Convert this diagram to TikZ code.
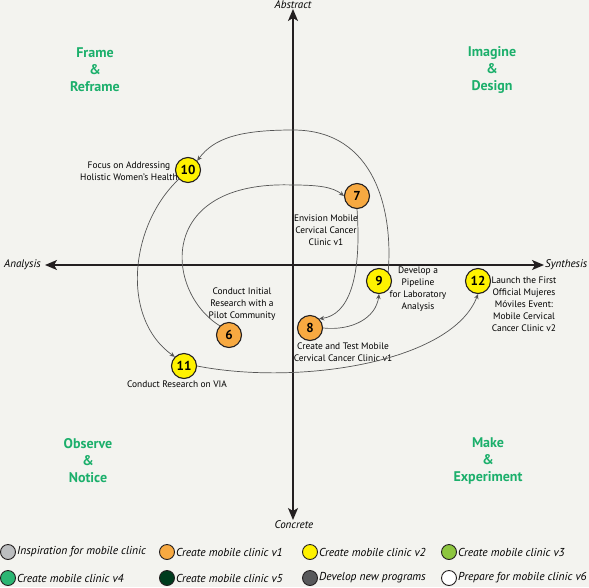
\documentclass[tikz,border=0pt]{standalone}
\usepackage{fontspec}
\setmainfont{PT Sans}
\usetikzlibrary{arrows.meta}

\definecolor{bgpaper}{RGB}{243,243,239}
\definecolor{quadgreen}{RGB}{27,175,107}
\definecolor{inkline}{RGB}{35,31,32}
\definecolor{flowgray}{RGB}{85,85,85}
\definecolor{cgray}{RGB}{188,190,192}
\definecolor{corange}{RGB}{247,169,65}
\definecolor{cyellow}{RGB}{255,242,0}
\definecolor{clime}{RGB}{141,198,63}
\definecolor{cgreen}{RGB}{43,182,115}
\definecolor{cdark}{RGB}{0,60,30}
\definecolor{cslate}{RGB}{88,89,91}

\tikzset{
  stage/.style={circle, draw=inkline, line width=1.1pt, minimum size=25pt, inner sep=0pt,
    font=\bfseries\fontsize{13}{13}\selectfont},
  note/.style={align=center, inner sep=0pt, font=\fontsize{9.4}{12}\selectfont},
  quad/.style={text=quadgreen, align=center, font=\bfseries\fontsize{14}{17}\selectfont},
  axislabel/.style={inner sep=0pt, font=\itshape\fontsize{11}{11}\selectfont},
  axis/.style={line width=1.4pt, draw=inkline, -{Stealth[length=12pt,width=10pt,inset=3pt]}},
  flow/.style={draw=flowgray, line width=0.7pt, -{Stealth[length=5pt,width=4.5pt]}},
  keydot/.style={circle, draw=inkline, line width=0.9pt, minimum size=15pt, inner sep=0pt},
  keytext/.style={anchor=west, inner sep=0pt, font=\itshape\fontsize{11.5}{12}\selectfont}
}

\begin{document}
\begin{tikzpicture}[x=1pt, y=-1pt]
    \fill[bgpaper] (0,0) rectangle (589,587);
    \useasboundingbox (0,0) rectangle (589,587);

    % axes
    \coordinate (o) at (293,265);
    \coordinate (top) at (293,9);
    \coordinate (bottom) at (293,520);
    \coordinate (left) at (45,265);
    \coordinate (right) at (544,265);
    \draw[axis] (o) -- (top);
    \draw[axis] (o) -- (bottom);
    \draw[axis] (o) -- (left);
    \draw[axis] (o) -- (right);
    \node[axislabel] (abstract) at (293,5) {Abstract};
    \node[axislabel] (concrete) at (294,525) {Concrete};
    \node[axislabel, anchor=west] (analysis) at (4,265) {Analysis};
    \node[axislabel, anchor=west] (synthesis) at (545,265) {Synthesis};

    % quadrants
    \node[quad] (frame) at (95,70) {Frame\\\&\\Reframe};
    \node[quad] (imagine) at (492,70) {Imagine\\\&\\Design};
    \node[quad] (observe) at (88,461) {Observe\\\&\\Notice};
    \node[quad] (make) at (488,461) {Make\\\&\\Experiment};

    % stages
    \node[stage, fill=cyellow] (s10) at (188,170) {10};
    \node[stage, fill=corange] (s7) at (357,196) {7};
    \node[stage, fill=cyellow] (s9) at (379,281) {9};
    \node[stage, fill=cyellow] (s12) at (478,281) {12};
    \node[stage, fill=corange] (s8) at (310,328) {8};
    \node[stage, fill=corange] (s6) at (229,335) {6};
    \node[stage, fill=cyellow] (s11) at (184,366) {11};

    \node[note] (n10) at (129,171) {Focus on Addressing\\Holistic Women's Health};
    \node[note] (n7) at (326,230) {Envision Mobile\\Cervical Cancer\\Clinic v1};
    \node[note] (n9) at (418,289) {Develop a\\Pipeline\\for Laboratory\\Analysis};
    \node[note] (n12) at (524,304) {Launch the First\\Official Mujeres\\Móviles Event:\\Mobile Cervical\\Cancer Clinic v2};
    \node[note] (n8) at (343,352) {Create and Test Mobile\\Cervical Cancer Clinic v1};
    \node[note] (n6) at (242,304) {Conduct Initial\\Research with a\\Pilot Community};
    \node[note] (n11) at (177,384) {Conduct Research on VIA};

    % connectors
    \draw[flow] (s6.north west) .. controls (165,292) and (155,180) .. (293,185)
        .. controls (318,185) and (333,187) .. (s7.west);
    \draw[flow] (s7.south) .. controls (362,280) and (348,315) .. (s8.north east);
    \draw[flow] (s8.east) .. controls (352,331) and (376,318) .. (s9.south);
    \draw[flow] (s9.north east) .. controls (393,212) and (376,130) .. (293,130)
        .. controls (240,130) and (214,138) .. (s10.north east);
    \draw[flow] (s10.south west) .. controls (130,225) and (120,318) .. (s11.north west);
    \draw[flow] (s11.east) .. controls (300,386) and (452,362) .. (s12.south);

    % legend
    \foreach \x/\y/\col/\txt [count=\i] in {
        8/552/cgray/Inspiration for mobile clinic,
        167/552/corange/Create mobile clinic v1,
        310/552/cyellow/Create mobile clinic v2,
        449/552/clime/Create mobile clinic v3,
        8/578/cgreen/Create mobile clinic v4,
        167/578/cdark/Create mobile clinic v5,
        310/578/cslate/Develop new programs,
        449/578/white/Prepare for mobile clinic v6} {
        \node[keydot, fill=\col] (k\i) at (\x,\y) {};
        \node[keytext] (t\i) at ([xshift=1pt]k\i.east) {\txt};
    }
\end{tikzpicture}
\end{document}
